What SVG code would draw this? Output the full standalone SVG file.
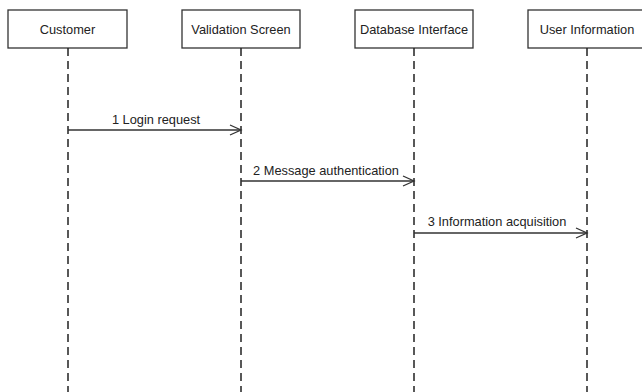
<svg xmlns="http://www.w3.org/2000/svg" width="642" height="392" viewBox="0 0 642 392">
  <style>
    .box { fill: #ffffff; stroke: #333333; stroke-width: 1.3; }
    .name { font-family: "Liberation Sans", Arial, sans-serif; font-size: 12.8px; fill: #222222; text-anchor: middle; }
    .life { stroke: #222222; stroke-width: 1.5; stroke-dasharray: 8 5; fill: none; }
    .msg { stroke: #333333; stroke-width: 1.3; fill: none; }
    .label { font-family: "Liberation Sans", Arial, sans-serif; font-size: 12.8px; fill: #222222; text-anchor: middle; }
  </style>
  <defs>
    <marker id="open" markerWidth="14" markerHeight="12" refX="12" refY="6" orient="auto" markerUnits="userSpaceOnUse">
      <path d="M1,1 L12,6 L1,11" fill="none" stroke="#333333" stroke-width="1.3"/>
    </marker>
  </defs>
  <rect width="642" height="392" fill="#ffffff"/>

  <g id="customer">
    <rect class="box" x="8" y="10" width="119" height="38"/>
    <text class="name" x="67.5" y="34">Customer</text>
  </g>
  <g id="validation-screen">
    <rect class="box" x="182" y="10" width="118" height="38"/>
    <text class="name" x="241" y="34">Validation Screen</text>
  </g>
  <g id="database-interface">
    <rect class="box" x="355" y="10" width="118" height="38"/>
    <text class="name" x="414" y="34">Database Interface</text>
  </g>
  <g id="user-information">
    <rect class="box" x="528" y="10" width="118" height="38"/>
    <text class="name" x="587" y="34">User Information</text>
  </g>

  <g id="connectors">
    <line class="life" x1="68" y1="48" x2="68" y2="392"/>
    <line class="life" x1="241" y1="48" x2="241" y2="392"/>
    <line class="life" x1="414" y1="48" x2="414" y2="392"/>
    <line class="life" x1="587" y1="48" x2="587" y2="392"/>

    <line class="msg" x1="68" y1="130" x2="241" y2="130" marker-end="url(#open)"/>
    <text class="label" x="156" y="124">1 Login request</text>

    <line class="msg" x1="241" y1="181" x2="414" y2="181" marker-end="url(#open)"/>
    <text class="label" x="326" y="175">2 Message authentication</text>

    <line class="msg" x1="414" y1="233" x2="587" y2="233" marker-end="url(#open)"/>
    <text class="label" x="497" y="226">3 Information acquisition</text>
  </g>
</svg>
